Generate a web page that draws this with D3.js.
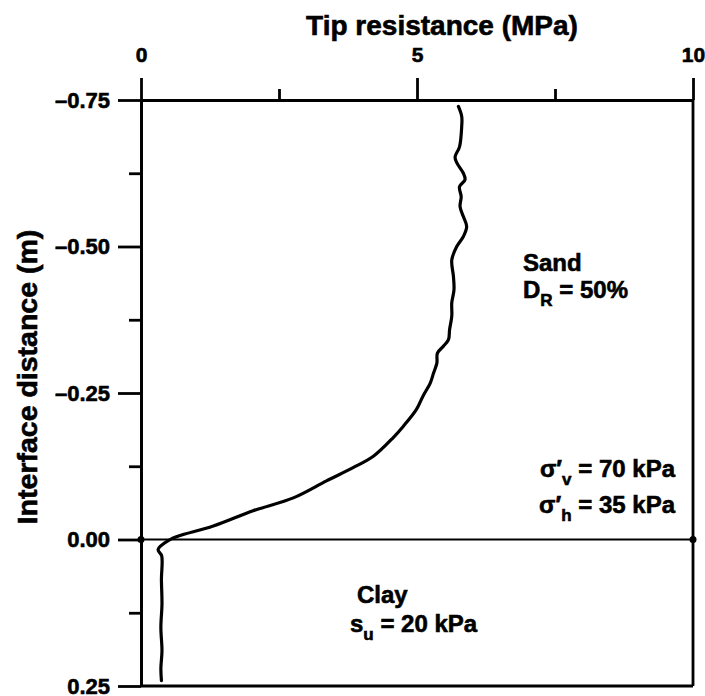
<!DOCTYPE html>
<html>
<head>
<meta charset="utf-8">
<script src="https://cdn.jsdelivr.net/npm/d3@7"></script>
<style>
  html, body { margin: 0; padding: 0; background: #fff; }
  svg text { font-family: "Liberation Sans", Arial, Helvetica, sans-serif; font-weight: bold; fill: #000; stroke: #000; stroke-width: 0.6px; }
  svg .tick text { font-size: 21px; }
  svg .yaxis .tick text { font-size: 22px; }
</style>
</head>
<body>
<svg id="chart" width="705" height="696"></svg>
<script>
// ---- data ----
const tipResistance = [5.75,5.81,5.81,5.77,5.69,5.72,5.84,5.87,5.77,5.80,5.78,5.84,5.90,5.84,5.72,5.63,5.66,5.67,5.63,5.63,5.59,5.57,5.48,5.37,5.36,5.30,5.24,5.11,4.99,4.75,4.57,4.21,3.85,3.36,2.76,2.03,1.31,0.68,0.53,0.31,0.375,0.37,0.38,0.36,0.38,0.36,0.37];
const interfaceDistance = [-0.739,-0.722,-0.705,-0.670,-0.653,-0.643,-0.625,-0.614,-0.602,-0.585,-0.568,-0.551,-0.534,-0.517,-0.500,-0.477,-0.449,-0.426,-0.404,-0.381,-0.358,-0.341,-0.330,-0.318,-0.301,-0.284,-0.267,-0.245,-0.222,-0.193,-0.174,-0.142,-0.123,-0.100,-0.071,-0.049,-0.023,-0.006,0.000,0.017,0.028,0.068,0.110,0.150,0.190,0.220,0.241];
const xMajorTicks = [0, 5, 10];
const xMinorTicks = [2.5, 7.5];
const yMajorTicks = [-0.75, -0.50, -0.25, 0.00, 0.25];
const yTickLabels = ["\u20130.75", "\u20130.50", "\u20130.25", "0.00", "0.25"];
const yMinorTicks = [-0.625, -0.375, -0.125, 0.125];
const xTitle = "Tip resistance (MPa)";
const yTitle = "Interface distance (m)";

// ---- layout ----
const svg = d3.select("#chart");
const L = 141, R = 693, T = 100, B = 686;
const x = d3.scaleLinear().domain([0, 10]).range([L, R]);
const y = d3.scaleLinear().domain([-0.75, 0.25]).range([T, B]);

// frame right & bottom
svg.append("line").attr("x1", R).attr("x2", R).attr("y1", T).attr("y2", B)
  .attr("stroke", "#000").attr("stroke-width", 2.8);
svg.append("line").attr("x1", L).attr("x2", R).attr("y1", B).attr("y2", B)
  .attr("stroke", "#000").attr("stroke-width", 2.8);

// top axis (major)
svg.append("g").attr("class", "xaxis").attr("transform", `translate(0,${T})`)
  .call(d3.axisTop(x).tickValues(xMajorTicks).tickSize(22).tickSizeOuter(0).tickPadding(16).tickFormat(d3.format("d")));
// top axis (minor)
svg.append("g").attr("transform", `translate(0,${T})`)
  .call(d3.axisTop(x).tickValues(xMinorTicks).tickSize(11).tickSizeOuter(0).tickFormat(""));

// left axis (major)
svg.append("g").attr("class", "yaxis").attr("transform", `translate(${L},0)`)
  .call(d3.axisLeft(y).tickValues(yMajorTicks).tickSize(23).tickSizeOuter(0).tickPadding(8)
    .tickFormat((d, i) => yTickLabels[i]));
svg.append("g").attr("transform", `translate(${L},0)`)
  .call(d3.axisLeft(y).tickValues(yMinorTicks).tickSize(12).tickSizeOuter(0).tickFormat(""));

svg.selectAll(".domain, .tick line").attr("stroke", "#000").attr("stroke-width", 2.8);
svg.selectAll(".tick text").attr("font-size", null).attr("font-family", null);

// interface line at 0
svg.append("line").attr("x1", x(0)).attr("x2", x(10)).attr("y1", y(0)).attr("y2", y(0))
  .attr("stroke", "#000").attr("stroke-width", 2.2);
svg.selectAll("circle.end").data([0, 10]).enter().append("circle")
  .attr("cx", d => x(d)).attr("cy", y(0)).attr("r", 3.5).attr("fill", "#000");

// curve
const pts = tipResistance.map((v, i) => [v, interfaceDistance[i]]);
svg.append("path").datum(pts)
  .attr("d", d3.line().x(d => x(d[0])).y(d => y(d[1])).curve(d3.curveCatmullRom.alpha(0.5)))
  .attr("fill", "none").attr("stroke", "#000").attr("stroke-width", 3.2)
  .attr("stroke-linejoin", "round").attr("stroke-linecap", "round");

// titles
svg.append("text").attr("x", 442).attr("y", 35).attr("text-anchor", "middle")
  .attr("font-size", 28).text(xTitle);
svg.append("text").attr("transform", "translate(37,377) rotate(-90)").attr("text-anchor", "middle")
  .attr("font-size", 28.5).text(yTitle);

// annotations
function sub(sel, main, subTxt, rest) {
  sel.append("tspan").text(main);
  sel.append("tspan").attr("font-size", 17).attr("dy", 8).text(subTxt);
  sel.append("tspan").attr("dy", -8).text(rest);
}
svg.append("text").attr("x", 523).attr("y", 271).attr("font-size", 24).text("Sand");
sub(svg.append("text").attr("x", 523).attr("y", 298).attr("font-size", 24), "D", "R", " = 50%");

sub(svg.append("text").attr("x", 675).attr("y", 477).attr("font-size", 24).attr("text-anchor", "end"), "\u03C3\u2032", "v", " = 70 kPa");
sub(svg.append("text").attr("x", 675).attr("y", 513).attr("font-size", 24).attr("text-anchor", "end"), "\u03C3\u2032", "h", " = 35 kPa");

svg.append("text").attr("x", 357).attr("y", 603).attr("font-size", 24).text("Clay");
sub(svg.append("text").attr("x", 350).attr("y", 632).attr("font-size", 24), "s", "u", " = 20 kPa");
</script>
</body>
</html>
